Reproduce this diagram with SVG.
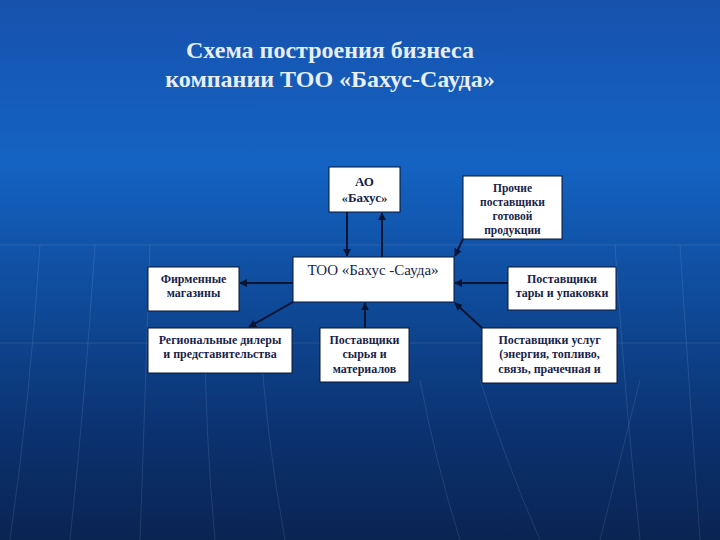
<svg xmlns="http://www.w3.org/2000/svg" width="720" height="540" viewBox="0 0 720 540">
<defs>
<linearGradient id="bg" x1="0" y1="0" x2="0" y2="1">
<stop offset="0" stop-color="#1752ad"/>
<stop offset="0.3" stop-color="#1463c3"/>
<stop offset="0.55" stop-color="#0f4b9a"/>
<stop offset="0.8" stop-color="#0b3270"/>
<stop offset="1" stop-color="#0a2452"/>
</linearGradient>
<marker id="ah" viewBox="0 0 10 10" refX="9" refY="5" markerWidth="4" markerHeight="4" orient="auto" markerUnits="strokeWidth">
<path d="M0,0 L10,5 L0,10 z" fill="#0a1433"/>
</marker>
<style>
.box{fill:#ffffff;stroke:#0a1433;stroke-width:1}
.t{font-family:"Liberation Serif","Times New Roman",serif;font-size:12px;font-weight:bold;fill:#1a1f4a;text-anchor:middle}
.tm{font-family:"Liberation Serif","Times New Roman",serif;font-size:15px;fill:#1a1f4a;text-anchor:middle}
.title{font-family:"Liberation Serif","Times New Roman",serif;font-size:24px;font-weight:bold;fill:#e6eef8;text-anchor:middle}
.c{stroke:#0a1433;stroke-width:2;fill:none;marker-end:url(#ah)}
.g{stroke:#ffffff;stroke-opacity:0.1;stroke-width:1;fill:none}
</style>
</defs>
<rect width="720" height="540" fill="url(#bg)"/>
<g id="grid">
<line class="g" x1="0" y1="245" x2="720" y2="245"/>
<line class="g" x1="0" y1="343" x2="720" y2="343"/>
<path class="g" d="M40,245 Q30,400 10,540"/>
<path class="g" d="M95,245 Q85,400 70,540"/>
<path class="g" d="M150,245 Q145,400 140,540"/>
<path class="g" d="M205,330 Q205,430 215,540"/>
<path class="g" d="M260,330 Q265,430 285,540"/>
<path class="g" d="M420,380 Q435,460 460,540"/>
<path class="g" d="M480,380 Q505,460 540,540"/>
<path class="g" d="M640,380 Q620,460 600,540"/>
<path class="g" d="M680,245 Q690,400 700,540"/>
<path class="g" d="M615,245 Q625,400 640,540"/>
</g>
<g id="title">
<text class="title" x="330" y="58">Схема построения бизнеса</text>
<text class="title" x="330" y="87">компании ТОО «Бахус-Сауда»</text>
</g>
<g id="connectors">
<line class="c" x1="347" y1="212" x2="347" y2="256"/>
<line class="c" x1="382" y1="257" x2="382" y2="213"/>
<line class="c" x1="293" y1="283" x2="240" y2="283"/>
<line class="c" x1="463" y1="239" x2="455" y2="256"/>
<line class="c" x1="508" y1="283" x2="455" y2="283"/>
<line class="c" x1="293" y1="302" x2="249" y2="327"/>
<line class="c" x1="365" y1="328" x2="365" y2="303"/>
<line class="c" x1="482" y1="328" x2="455" y2="303"/>
</g>
<g id="ao">
<rect class="box" x="329" y="167" width="71" height="45"/>
<text class="t" x="364.5" y="186" style="font-size:13px">АО</text>
<text class="t" x="364.5" y="202" style="font-size:13px">«Бахус»</text>
</g>
<g id="too">
<rect class="box" x="293" y="257" width="161" height="45"/>
<text class="tm" x="373" y="275">ТОО «Бахус -Сауда»</text>
</g>
<g id="prochie">
<rect class="box" x="463" y="176" width="99" height="63"/>
<text class="t" x="512.5" y="192" style="font-size:11.5px">Прочие</text>
<text class="t" x="512.5" y="206" style="font-size:11.5px">поставщики</text>
<text class="t" x="512.5" y="220" style="font-size:11.5px">готовой</text>
<text class="t" x="512.5" y="234" style="font-size:11.5px">продукции</text>
</g>
<g id="firm">
<rect class="box" x="148" y="267" width="91" height="44"/>
<text class="t" x="193.5" y="283">Фирменные</text>
<text class="t" x="193.5" y="297">магазины</text>
</g>
<g id="tara">
<rect class="box" x="508" y="267" width="108" height="43"/>
<text class="t" x="562" y="283">Поставщики</text>
<text class="t" x="562" y="297">тары и упаковки</text>
</g>
<g id="region">
<rect class="box" x="148" y="328" width="144" height="45"/>
<text class="t" x="220" y="344">Региональные дилеры</text>
<text class="t" x="220" y="358">и представительства</text>
</g>
<g id="syrie">
<rect class="box" x="320" y="328" width="89" height="54"/>
<text class="t" x="364.5" y="344">Поставщики</text>
<text class="t" x="364.5" y="358">сырья и</text>
<text class="t" x="364.5" y="373">материалов</text>
</g>
<g id="uslugi">
<rect class="box" x="482" y="328" width="135" height="55"/>
<text class="t" x="549.5" y="344">Поставщики услуг</text>
<text class="t" x="549.5" y="358">(энергия, топливо,</text>
<text class="t" x="549.5" y="373">связь, прачечная и</text>
</g>
</svg>
